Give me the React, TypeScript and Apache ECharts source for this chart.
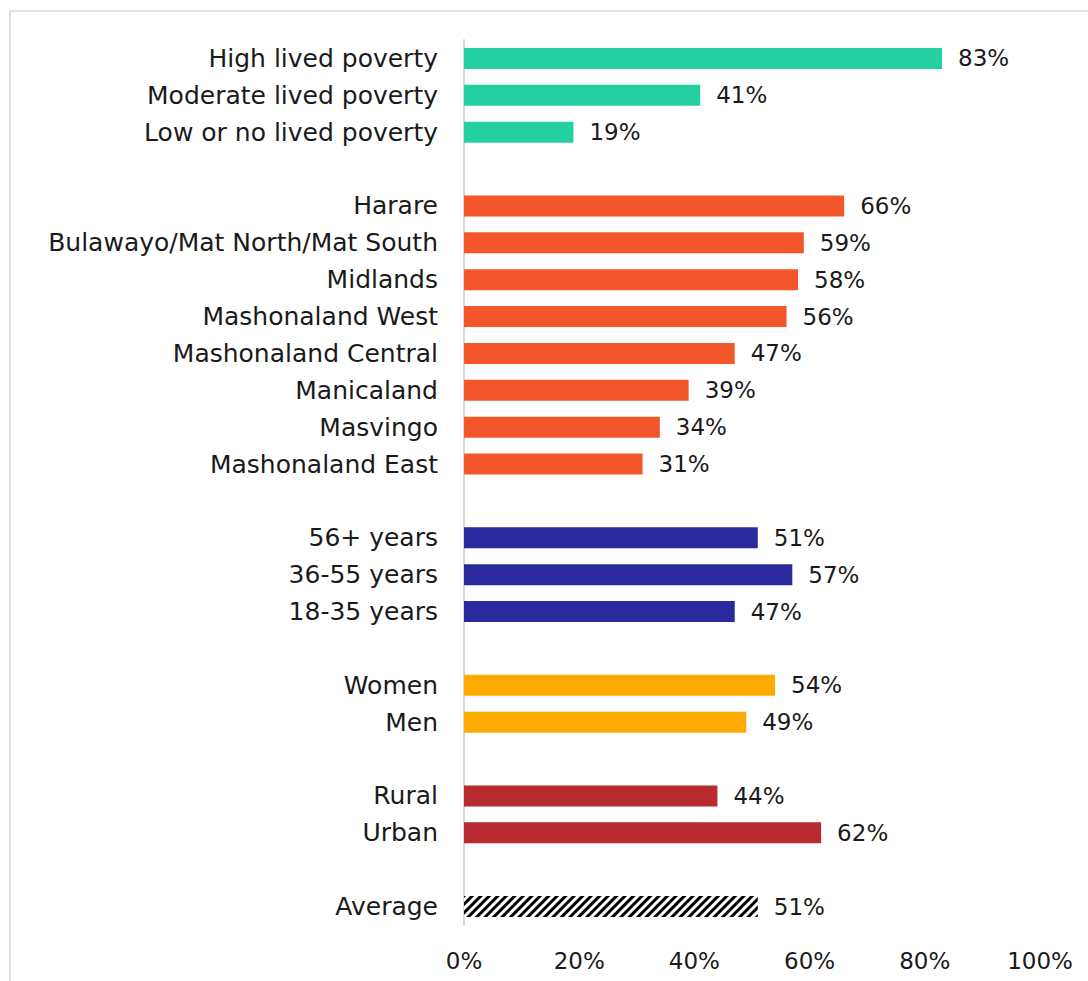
import React, { useEffect, useRef } from "react";
import * as echarts from "echarts";

const povertyCats = ["High lived poverty", "Moderate lived poverty", "Low or no lived poverty"];
const povertyVals = [83, 41, 19];
const provinceCats = [
  "Harare",
  "Bulawayo/Mat North/Mat South",
  "Midlands",
  "Mashonaland West",
  "Mashonaland Central",
  "Manicaland",
  "Masvingo",
  "Mashonaland East",
];
const provinceVals = [66, 59, 58, 56, 47, 39, 34, 31];
const ageCats = ["56+ years", "36-55 years", "18-35 years"];
const ageVals = [51, 57, 47];
const genderCats = ["Women", "Men"];
const genderVals = [54, 49];
const locationCats = ["Rural", "Urban"];
const locationVals = [44, 62];
const averageCats = ["Average"];
const averageVals = [51];
const xTicks = [0, 20, 40, 60, 80, 100];

const FONT = "DejaVu Sans";

export default function App() {
  const ref = useRef<HTMLDivElement>(null);
  useEffect(() => {
    if (!ref.current) return;
    const chart = echarts.init(ref.current, undefined, { renderer: "svg" });

    const groups = [
      { cats: povertyCats, vals: povertyVals, color: "#25D0A0" },
      { cats: provinceCats, vals: provinceVals, color: "#F2562A" },
      { cats: ageCats, vals: ageVals, color: "#2A2A9E" },
      { cats: genderCats, vals: genderVals, color: "#FFAA00" },
      { cats: locationCats, vals: locationVals, color: "#B72A30" },
      { cats: averageCats, vals: averageVals, color: "hatch" },
    ];
    const categories: string[] = [];
    const data: any[] = [];
    groups.forEach((g, gi) => {
      if (gi > 0) {
        categories.push(" ".repeat(gi));
        data.push({ value: null, label: { show: false } });
      }
      g.cats.forEach((c, i) => {
        categories.push(c);
        if (g.color === "hatch") {
          data.push({
            value: g.vals[i],
            itemStyle: {
              color: "#ffffff",
              decal: {
                symbol: "rect",
                symbolSize: 1,
                color: "#000000",
                dashArrayX: [1, 0],
                dashArrayY: [3, 3],
                rotation: -Math.PI / 4,
              },
            },
          });
        } else {
          data.push({ value: g.vals[i], itemStyle: { color: g.color } });
        }
      });
    });

    chart.setOption({
      animation: false,
      backgroundColor: "#ffffff",
      graphic: [
        {
          type: "rect",
          shape: { x: 10, y: 11, width: 1200, height: 1100 },
          style: { fill: "none", stroke: "#d9d9d9", lineWidth: 1.5 },
          silent: true,
        },
      ],
      grid: { left: 464, right: 48, top: 40, bottom: 56, containLabel: false },
      xAxis: {
        type: "value",
        min: 0,
        max: 100,
        interval: 20,
        axisLine: { show: false },
        axisTick: { show: false },
        splitLine: { show: false },
        axisLabel: {
          margin: 24,
          fontFamily: FONT,
          fontSize: 23,
          color: "#1a1a1a",
          formatter: (v: number) => (xTicks.includes(v) ? v + "%" : ""),
        },
      },
      yAxis: {
        type: "category",
        inverse: true,
        data: categories,
        axisLine: { show: true, lineStyle: { color: "#d9d9d9", width: 2 } },
        axisTick: { show: false },
        axisLabel: {
          margin: 26,
          fontFamily: FONT,
          fontSize: 25,
          color: "#1a1a1a",
          interval: 0,
        },
      },
      series: [
        {
          type: "bar",
          data,
          barWidth: 21,
          label: {
            show: true,
            position: "right",
            distance: 16,
            fontFamily: FONT,
            fontSize: 23,
            color: "#1a1a1a",
            formatter: (p: any) => p.value + "%",
          },
        },
      ],
    });
    return () => chart.dispose();
  }, []);
  return (
    <div
      ref={ref}
      style={{ position: "fixed", left: 0, top: 0, width: 1088, height: 981 }}
    />
  );
}
